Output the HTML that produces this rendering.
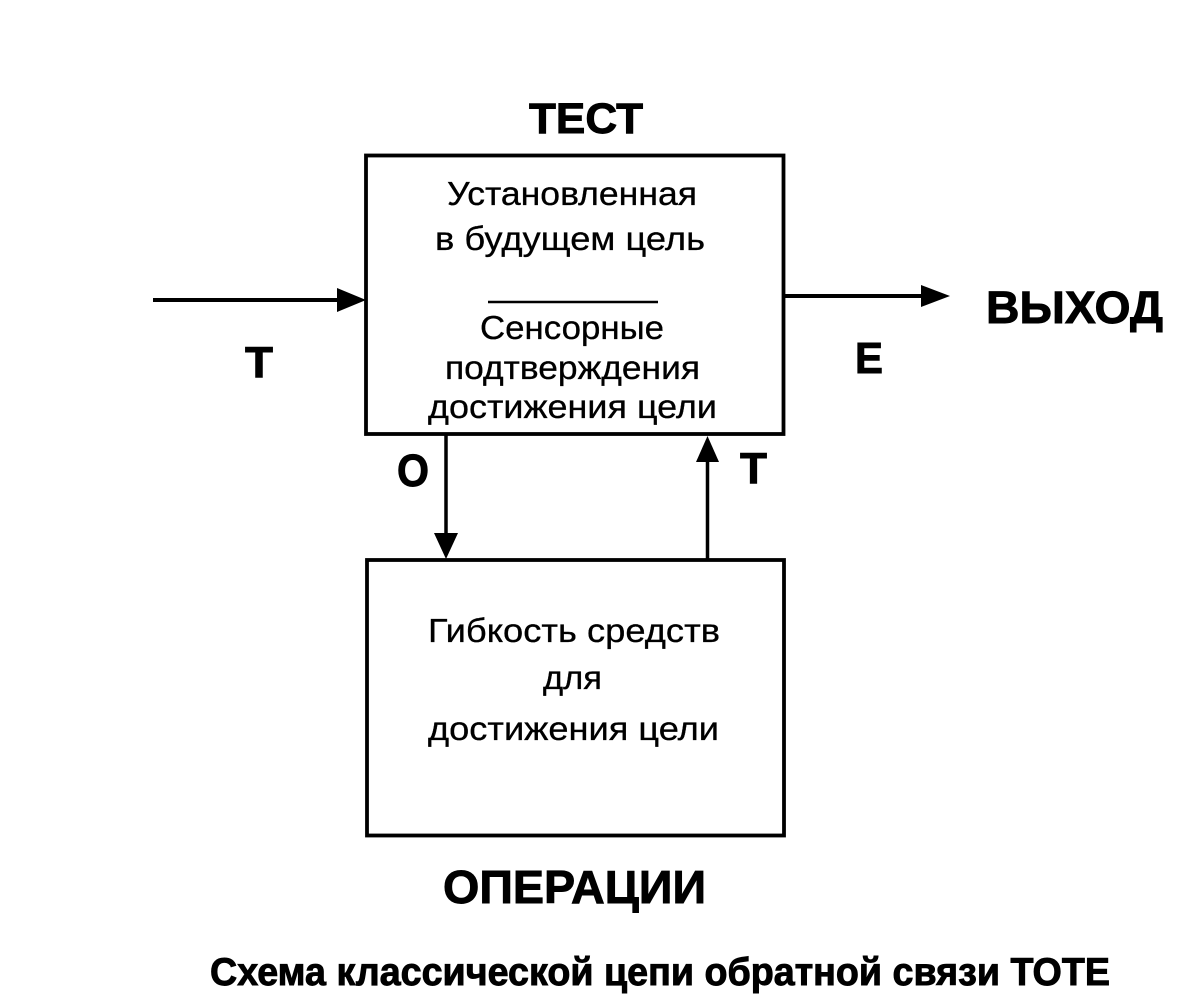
<!DOCTYPE html>
<html>
<head>
<meta charset="utf-8">
<style>
  html, body { margin: 0; padding: 0; background: #fff; }
  svg { display: block; }
  .b { font-family: "Liberation Sans", "DejaVu Sans", sans-serif; font-weight: bold; fill: #000; stroke: #000; stroke-width: 0.9; }
  .r { font-family: "Liberation Sans", "DejaVu Sans", sans-serif; font-weight: normal; fill: #000; stroke: #000; stroke-width: 0.3; }
</style>
</head>
<body>
<svg width="1192" height="998" viewBox="0 0 1192 998" xmlns="http://www.w3.org/2000/svg">
  <rect x="0" y="0" width="1192" height="998" fill="#fff"/>

  <!-- Top box (ТЕСТ) -->
  <rect x="366" y="155.5" width="417.5" height="278.5" fill="none" stroke="#000" stroke-width="3.8"/>
  <!-- Bottom box (ОПЕРАЦИИ) -->
  <rect x="367" y="560" width="417" height="275.5" fill="none" stroke="#000" stroke-width="3.8"/>

  <!-- Left input arrow -->
  <line x1="153" y1="300" x2="342" y2="300" stroke="#000" stroke-width="4"/>
  <polygon points="337,288 366,300 337,312" fill="#000"/>

  <!-- Right output arrow -->
  <line x1="784" y1="296" x2="926" y2="296" stroke="#000" stroke-width="4"/>
  <polygon points="921,285 950,296 921,307" fill="#000"/>

  <!-- Down arrow (O) -->
  <line x1="446" y1="434" x2="446" y2="536" stroke="#000" stroke-width="3.5"/>
  <polygon points="434,533 446,559 458,533" fill="#000"/>

  <!-- Up arrow (T) -->
  <line x1="707.5" y1="560" x2="707.5" y2="458" stroke="#000" stroke-width="3.5"/>
  <polygon points="696,462 707.5,436 719,462" fill="#000"/>

  <!-- Separator line in top box -->
  <line x1="488" y1="302" x2="658" y2="302" stroke="#000" stroke-width="2.5"/>

  <!-- Top box text -->
  <text class="r" x="447" y="205" font-size="33" textLength="250" lengthAdjust="spacingAndGlyphs">Установленная</text>
  <text class="r" x="435" y="250" font-size="33" textLength="270" lengthAdjust="spacingAndGlyphs">в будущем цель</text>
  <text class="r" x="480" y="339" font-size="33" textLength="184" lengthAdjust="spacingAndGlyphs">Сенсорные</text>
  <text class="r" x="445" y="379" font-size="33" textLength="255" lengthAdjust="spacingAndGlyphs">подтверждения</text>
  <text class="r" x="428" y="418" font-size="33" textLength="289" lengthAdjust="spacingAndGlyphs">достижения цели</text>

  <!-- Bottom box text -->
  <text class="r" x="428" y="642" font-size="33" textLength="292" lengthAdjust="spacingAndGlyphs">Гибкость средств</text>
  <text class="r" x="543" y="689" font-size="33" textLength="59" lengthAdjust="spacingAndGlyphs">для</text>
  <text class="r" x="428" y="740" font-size="33" textLength="291" lengthAdjust="spacingAndGlyphs">достижения цели</text>

  <!-- Bold labels -->
  <text class="b" x="529" y="133" font-size="43" textLength="114" lengthAdjust="spacingAndGlyphs">ТЕСТ</text>
  <text class="b" x="245" y="377" font-size="44" textLength="28" lengthAdjust="spacingAndGlyphs">Т</text>
  <text class="b" x="855" y="373" font-size="44" textLength="28" lengthAdjust="spacingAndGlyphs">Е</text>
  <text class="b" x="986" y="323" font-size="45" textLength="177" lengthAdjust="spacingAndGlyphs">ВЫХОД</text>
  <text class="b" x="397" y="486" font-size="45" textLength="32" lengthAdjust="spacingAndGlyphs">О</text>
  <text class="b" x="740" y="483" font-size="44" textLength="27" lengthAdjust="spacingAndGlyphs">Т</text>
  <text class="b" x="443" y="903" font-size="46" textLength="263" lengthAdjust="spacingAndGlyphs">ОПЕРАЦИИ</text>

  <!-- Caption -->
  <text class="b" x="210" y="985" font-size="39" textLength="900" lengthAdjust="spacingAndGlyphs">Схема классической цепи обратной связи ТОТЕ</text>
</svg>
</body>
</html>
